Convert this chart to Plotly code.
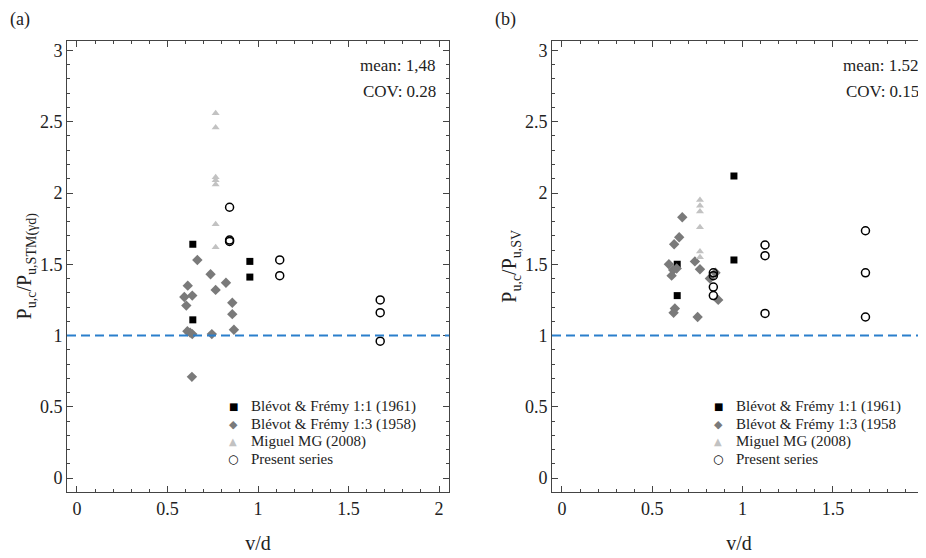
import plotly.graph_objects as go

# ---------------- Panel (a) data ----------------
a_bf11_x = [0.64, 0.64, 0.955, 0.955]
a_bf11_y = [1.64, 1.11, 1.52, 1.41]

a_bf13_x = [0.665, 0.738, 0.823, 0.612, 0.766, 0.593, 0.637, 0.604, 0.858, 0.858, 0.867,
            0.61, 0.625, 0.637, 0.745, 0.635]
a_bf13_y = [1.53, 1.43, 1.37, 1.35, 1.32, 1.27, 1.28, 1.21, 1.23, 1.15, 1.04,
            1.03, 1.02, 1.01, 1.01, 0.71]

a_mig_x = [0.766, 0.766, 0.766, 0.766, 0.766, 0.766, 0.766]
a_mig_y = [2.56, 2.46, 2.11, 2.09, 2.06, 1.78, 1.62]

a_pres_x = [0.843, 0.843, 0.843, 1.12, 1.12, 1.675, 1.675, 1.675]
a_pres_y = [1.90, 1.67, 1.66, 1.53, 1.42, 1.25, 1.16, 0.96]

# ---------------- Panel (b) data ----------------
b_bf11_x = [0.952, 0.952, 0.638, 0.638]
b_bf11_y = [2.12, 1.53, 1.50, 1.28]

b_bf13_x = [0.666, 0.649, 0.621, 0.592, 0.736, 0.764, 0.616, 0.635, 0.607,
            0.819, 0.85, 0.865, 0.625, 0.618, 0.751]
b_bf13_y = [1.83, 1.69, 1.64, 1.50, 1.52, 1.465, 1.46, 1.47, 1.42,
            1.40, 1.44, 1.25, 1.19, 1.16, 1.13]

b_mig_x = [0.764, 0.764, 0.764, 0.764, 0.764, 0.764]
b_mig_y = [1.95, 1.91, 1.87, 1.76, 1.59, 1.55]

b_pres_x = [0.838, 0.838, 0.838, 0.838, 1.124, 1.124, 1.124, 1.68, 1.68, 1.68]
b_pres_y = [1.44, 1.42, 1.34, 1.28, 1.635, 1.56, 1.155, 1.735, 1.44, 1.13]

names_a = ["Blévot & Frémy 1:1 (1961)", "Blévot & Frémy 1:3 (1958)",
           "Miguel MG (2008)", "Present series"]
names_b = ["Blévot & Frémy 1:1 (1961)", "Blévot & Frémy 1:3 (1958",
           "Miguel MG (2008)", "Present series"]

x_tickvals = [0, 0.5, 1, 1.5, 2]
x_ticktext = ["0", "0.5", "1", "1.5", "2"]
y_tickvals = [0, 0.5, 1, 1.5, 2, 2.5, 3]
y_ticktext = ["0", "0.5", "1", "1.5", "2", "2.5", "3"]

FONT = "Liberation Serif"

colors = ["#000000", "#7a7a7a", "#c2c2c2", "#000000"]
styles = [
    dict(symbol="square", size=7, color=colors[0]),
    dict(symbol="diamond", size=8, color=colors[1]),
    dict(symbol="triangle-up", size=7, color=colors[2]),
    dict(symbol="circle-open", size=8, color=colors[3], line=dict(width=1.5, color=colors[3])),
]
legend_glyphs = ["■", "◆", "▲", "○"]
legend_glyph_sizes = [10, 11, 10, 12]

fig = go.Figure()

sets_a = [(a_bf11_x, a_bf11_y), (a_bf13_x, a_bf13_y), (a_mig_x, a_mig_y), (a_pres_x, a_pres_y)]
sets_b = [(b_bf11_x, b_bf11_y), (b_bf13_x, b_bf13_y), (b_mig_x, b_mig_y), (b_pres_x, b_pres_y)]

for (xs, ys), nm, st in zip(sets_a, names_a, styles):
    fig.add_trace(go.Scatter(x=xs, y=ys, mode="markers", name=nm, marker=st,
                             xaxis="x", yaxis="y", showlegend=False))
for (xs, ys), nm, st in zip(sets_b, names_b, styles):
    fig.add_trace(go.Scatter(x=xs, y=ys, mode="markers", name=nm, marker=st,
                             xaxis="x2", yaxis="y2", showlegend=False))

W, H = 926, 558
OFF = 8  # page body margin offset of the rendered figure
def px(x):
    return (x - OFF) / W
def py(y):
    return 1 - (y - OFF) / H

axis_common = dict(
    automargin=False,
    ticks="inside", ticklen=6, tickwidth=1, tickcolor="#444",
    showline=True, linecolor="#444", linewidth=1,
    showgrid=False, zeroline=False,
    tickfont=dict(family=FONT, size=18, color="#222"),
    minor=dict(ticks="inside", ticklen=3, tickwidth=1, tickcolor="#444", dtick=0.1,
               tick0=0, showgrid=False),
    ticklabeloverflow="allow",
)
title_font = dict(family=FONT, size=20, color="#222")
tick_font = dict(family=FONT, size=18, color="#222")
xt = dict(tickmode="array", tickvals=x_tickvals, ticktext=x_ticktext)
# panel (b): last x label sits on the window edge; it is drawn as an annotation below
xt2 = dict(tickmode="array", tickvals=x_tickvals, ticktext=x_ticktext[:-1] + [""])
yt = dict(tickmode="array", tickvals=y_tickvals, ticktext=y_ticktext)

fig.update_layout(
    width=W, height=H,
    margin=dict(l=0, r=0, t=0, b=0),
    plot_bgcolor="white", paper_bgcolor="white",
    showlegend=False,
    xaxis=dict(domain=[px(67), px(449)], range=[-0.055, 2.055], mirror="allticks",
               anchor="y", title=dict(text="v/d", font=title_font, standoff=18),
               **xt, **axis_common),
    yaxis=dict(domain=[py(492), py(40.5)], range=[-0.098, 3.07], mirror="allticks",
               anchor="x", title=dict(text="P<sub>u,c</sub>/P<sub>u,STM(γd)</sub>", font=title_font, standoff=2),
               **yt, **axis_common),
    xaxis2=dict(domain=[px(552), px(926)], range=[-0.055, 2.015], mirror="allticks",
                anchor="y2", title=dict(text="v/d", font=title_font, standoff=18),
                **xt2, **axis_common),
    yaxis2=dict(domain=[py(492), py(40.5)], range=[-0.098, 3.07], mirror=False,
                anchor="x2", title=dict(text="P<sub>u,c</sub>/P<sub>u,SV</sub>", font=title_font, standoff=2),
                **yt, **axis_common),
)

# edge tick label "2" of panel (b), positioned through the x2 scale
fig.add_annotation(text=x_ticktext[-1], xref="x2", yref="paper", x=x_tickvals[-1], y=py(512),
                   xanchor="center", yanchor="middle", showarrow=False, font=tick_font)

# Reference lines at 1.0
for xr, yr in [("x", "y"), ("x2", "y2")]:
    fig.add_shape(type="line", xref=f"{xr} domain", yref=yr, x0=0, x1=1, y0=1, y1=1,
                  line=dict(color="#2a7fcc", width=2, dash="9px,5px"), layer="above")

ann_font = dict(family=FONT, size=17, color="#222")
def ann(text, x, y, xanchor="center", font=ann_font):
    fig.add_annotation(text=text, xref="paper", yref="paper", x=px(x), y=py(y),
                       xanchor=xanchor, yanchor="middle", showarrow=False, font=font)

ann("(a)", 20, 20, font=dict(family=FONT, size=18, color="#222"))
ann("(b)", 506, 20, font=dict(family=FONT, size=18, color="#222"))
ann("mean: 1,48", 438, 66, "right")
ann("COV: 0.28", 438, 91, "right")
ann("mean: 1.52", 921, 66, "right")
ann("COV: 0.15", 921, 91, "right")

# Legends (drawn as text)
leg_font = dict(family=FONT, size=15, color="#222")
row_y = [406, 424, 441.5, 459]
for x_sym, x_txt, names in [(233, 249, names_a), (718, 734, names_b)]:
    for i, nm in enumerate(names):
        ann(legend_glyphs[i], x_sym, row_y[i],
            font=dict(family="DejaVu Sans", size=legend_glyph_sizes[i], color=colors[i]))
        ann(nm, x_txt, row_y[i], "left", font=leg_font)

fig.write_html("out.html")
